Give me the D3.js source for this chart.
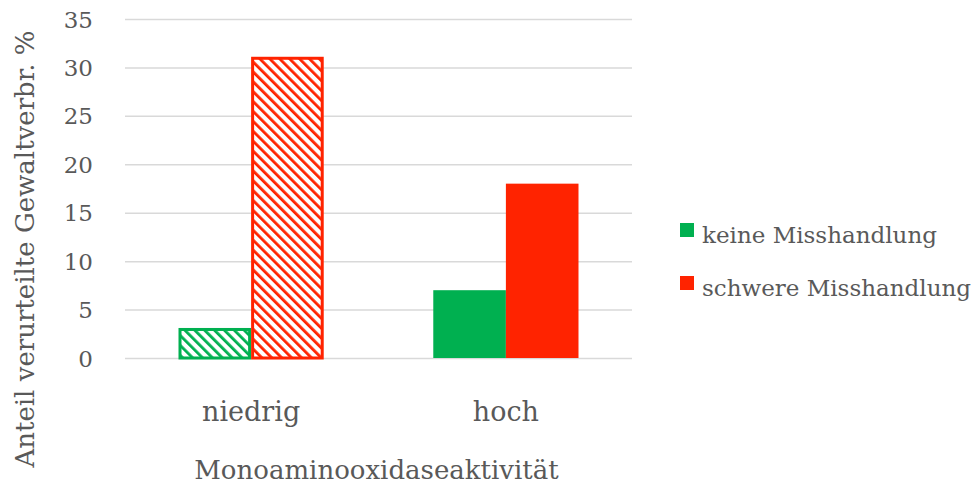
<!DOCTYPE html>
<html>
<head>
<meta charset="utf-8">
<script src="https://cdn.jsdelivr.net/npm/d3@7"></script>
<style>
  body { margin: 0; background: #fff; }
  text { font-family: "DejaVu Serif", "Liberation Serif", serif; fill: #595959; }
</style>
</head>
<body>
<svg id="chart" width="979" height="487"></svg>
<script>
var categories = ["niedrig", "hoch"];
var seriesNames = ["keine Misshandlung", "schwere Misshandlung"];
var keineValues = [3.1, 7];
var schwereValues = [31.1, 18];
var hatched = [true, false];
var yTicks = [0, 5, 10, 15, 20, 25, 30, 35];
var colors = ["#00b050", "#ff2300"];

var svg = d3.select("#chart"),
    margin = {top: 19, right: 347, bottom: 129, left: 125},
    width = 979 - margin.left - margin.right,
    height = 487 - margin.top - margin.bottom,
    g = svg.append("g").attr("transform", "translate(" + margin.left + "," + margin.top + ")");

// hatch patterns
var defs = svg.append("defs");
colors.forEach(function (c, i) {
    var p = defs.append("pattern")
        .attr("id", "hatch" + i)
        .attr("patternUnits", "userSpaceOnUse")
        .attr("width", 7)
        .attr("height", 7)
        .attr("patternTransform", "rotate(-45)");
    p.append("rect").attr("width", 7).attr("height", 7).attr("fill", "#fff");
    p.append("line")
        .attr("x1", 0).attr("y1", 0).attr("x2", 0).attr("y2", 7)
        .attr("stroke", c).attr("stroke-width", 5.6);
});

var x0 = d3.scaleBand().domain(categories).range([0, width]).paddingInner(0.43).paddingOuter(0.21);
var x1 = d3.scaleBand().domain(seriesNames).range([0, x0.bandwidth()]);
var y = d3.scaleLinear().domain([0, 35]).range([height, 0]);

// gridlines
g.append("g")
    .call(d3.axisLeft(y).tickValues(yTicks).tickSize(-width).tickFormat(""))
    .call(function (a) { a.select(".domain").remove(); })
    .selectAll("line").attr("stroke", "#d9d9d9").attr("stroke-width", 1.5);

// y tick labels
g.append("g")
    .call(d3.axisLeft(y).tickValues(yTicks).tickSize(0).tickPadding(32))
    .call(function (a) { a.select(".domain").remove(); })
    .selectAll("text")
    .style("font-size", "23px")
    .attr("dy", "0.35em");

var data = categories.map(function (c, i) {
    return {cat: c, hatch: hatched[i], vals: [keineValues[i], schwereValues[i]]};
});

var groups = g.selectAll(".grp").data(data).enter().append("g")
    .attr("transform", function (d) { return "translate(" + x0(d.cat) + ",0)"; });

groups.selectAll("rect")
    .data(function (d) {
        return d.vals.map(function (v, j) { return {v: v, j: j, hatch: d.hatch}; });
    })
    .enter().append("rect")
    .attr("x", function (d) { return x1(seriesNames[d.j]) + (d.hatch ? 1.5 : 0); })
    .attr("y", function (d) { return y(d.v) + (d.hatch ? 1.5 : 0); })
    .attr("width", function (d) { return x1.bandwidth() - (d.hatch ? 3 : 0); })
    .attr("height", function (d) { return height - y(d.v) - (d.hatch ? 1.5 : 0); })
    .attr("fill", function (d) { return d.hatch ? "url(#hatch" + d.j + ")" : colors[d.j]; })
    .attr("stroke", function (d) { return d.hatch ? colors[d.j] : "none"; })
    .attr("stroke-width", 3);

// category labels
g.append("g")
    .attr("transform", "translate(0," + height + ")")
    .call(d3.axisBottom(x0).tickSize(0).tickPadding(44))
    .call(function (a) { a.select(".domain").remove(); })
    .selectAll("text")
    .style("font-size", "27px");

// x axis title
svg.append("text")
    .attr("x", margin.left + width / 2 - 2)
    .attr("y", 479)
    .style("text-anchor", "middle")
    .style("font-size", "26px")
    .text("Monoaminooxidaseaktivität");

// y axis title
svg.append("text")
    .attr("transform", "rotate(-90)")
    .attr("x", -249)
    .attr("y", 34)
    .style("text-anchor", "middle")
    .style("font-size", "26px")
    .text("Anteil verurteilte Gewaltverbr. %");

// legend
var legend = svg.append("g").attr("transform", "translate(680,223)");
seriesNames.forEach(function (n, i) {
    legend.append("rect")
        .attr("x", 0).attr("y", i * 53)
        .attr("width", 14).attr("height", 14)
        .attr("fill", colors[i]);
    legend.append("text")
        .attr("x", 22).attr("y", i * 53 + 20)
        .style("font-size", "23px")
        .text(n);
});
</script>
</body>
</html>
